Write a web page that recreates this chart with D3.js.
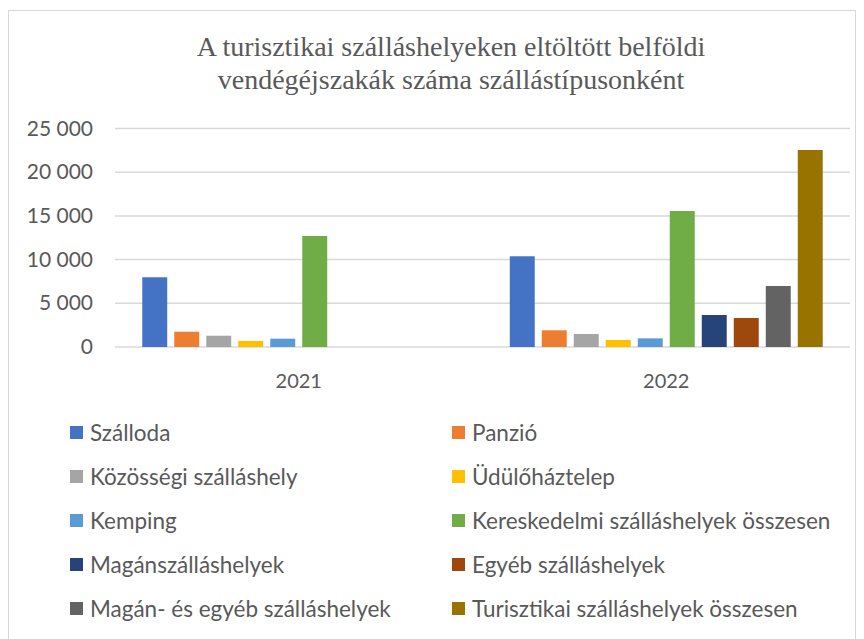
<!DOCTYPE html>
<html lang="hu">
<head>
<meta charset="utf-8" />
<title>Belföldi vendégéjszakák</title>
<script src="https://d3js.org/d3.v7.min.js"></script>
<style>
  body { margin: 0; background: #fff; }
</style>
</head>
<body>
<script>
// data (ezer vendégéjszaka)
var years = ["2021", "2022"];
var series = ["Szálloda", "Panzió", "Közösségi szálláshely", "Üdülőháztelep", "Kemping",
  "Kereskedelmi szálláshelyek összesen", "Magánszálláshelyek", "Egyéb szálláshelyek",
  "Magán- és egyéb szálláshelyek", "Turisztikai szálláshelyek összesen"];
var values2021 = [7980, 1750, 1290, 690, 950, 12700, null, null, null, null];
var values2022 = [10380, 1910, 1490, 800, 990, 15560, 3660, 3320, 6980, 22540];
var yTicks = [0, 5000, 10000, 15000, 20000, 25000];
var colors = ["#4472C4", "#ED7D31", "#A5A5A5", "#FFC000", "#5B9BD5",
  "#70AD47", "#264478", "#9E480E", "#636363", "#997300"];

var w = 864, h = 639;
var svg = d3.select("body").append("svg").attr("width", w).attr("height", h);

svg.append("rect").attr("x", 8.5).attr("y", 10.5).attr("width", 847).attr("height", 640)
  .attr("fill", "#fff").attr("stroke", "#d9d9d9").attr("stroke-width", 1);

var title = ["A turisztikai szálláshelyeken eltöltött belföldi",
  "vendégéjszakák száma szállástípusonként"];
svg.selectAll("text.title").data(title).enter().append("text")
  .attr("class", "title")
  .attr("x", 451).attr("y", function(d, i){ return 56 + i * 33; })
  .attr("text-anchor", "middle")
  .style("font-family", "'Liberation Serif', serif").style("font-size", "28px")
  .style("fill", "#595959")
  .text(function(d){ return d; });

var y = d3.scaleLinear().domain([0, 25000]).range([347, 128.5]);
var x0 = d3.scaleBand().domain(years).range([115, 850]);
var x1 = d3.scaleBand().domain(series).range([23.75, 343.75]).paddingInner(0.22).paddingOuter(0.11);
var color = d3.scaleOrdinal().domain(series).range(colors);
var fmt = function(v){ return d3.format(",")(v).replace(/,/g, " "); };

// gridlines
svg.selectAll("line.grid").data(yTicks).enter().append("line")
  .attr("x1", 115).attr("x2", 850)
  .attr("y1", function(d){ return y(d); }).attr("y2", function(d){ return y(d); })
  .attr("stroke", "#d9d9d9").attr("stroke-width", 1.5);

var font = "Lato, 'Open Sans', sans-serif";
svg.selectAll("text.ytick").data(yTicks).enter().append("text")
  .attr("x", 93).attr("y", function(d){ return y(d) + 7; })
  .attr("text-anchor", "end")
  .style("font-family", font).style("font-size", "21px").style("fill", "#595959")
  .text(fmt);

svg.selectAll("text.xtick").data(years).enter().append("text")
  .attr("x", function(d){ return x0(d) + x0.bandwidth() / 2; }).attr("y", 388)
  .attr("text-anchor", "middle")
  .style("font-family", font).style("font-size", "20px").style("fill", "#595959")
  .text(function(d){ return d; });

var rows = [];
years.forEach(function(yr, i){
  var vals = i == 0 ? values2021 : values2022;
  series.forEach(function(s, j){
    if (vals[j] != null) rows.push({year: yr, series: s, value: vals[j]});
  });
});

svg.selectAll("rect.bar").data(rows).enter().append("rect")
  .attr("x", function(d){ return x0(d.year) + x1(d.series); })
  .attr("y", function(d){ return y(d.value); })
  .attr("width", x1.bandwidth())
  .attr("height", function(d){ return y(0) - y(d.value); })
  .attr("fill", function(d){ return color(d.series); });

// legend, two columns
var leg = svg.selectAll("g.leg").data(series).enter().append("g")
  .attr("transform", function(d, i){
    return "translate(" + (i % 2 == 0 ? 70 : 452) + "," + (433 + Math.floor(i / 2) * 44) + ")";
  });
leg.append("rect").attr("x", 0).attr("y", -7).attr("width", 13).attr("height", 13)
  .attr("fill", function(d){ return color(d); });
leg.append("text").attr("x", 20).attr("y", 8)
  .style("font-family", font).style("font-size", "22.5px").style("fill", "#595959")
  .text(function(d){ return d; });
</script>
</body>
</html>
